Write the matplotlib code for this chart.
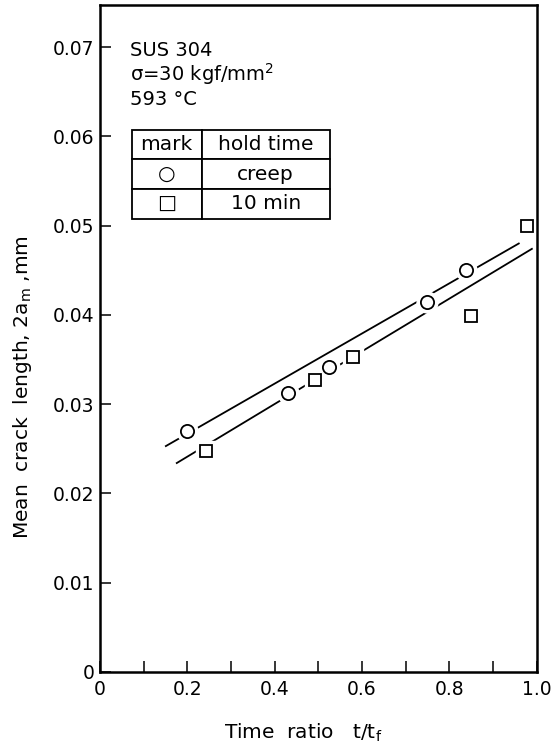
import numpy as np
import matplotlib
matplotlib.use("Agg")
import matplotlib.pyplot as plt

# Data
creep_t = [0.20, 0.43, 0.525, 0.748, 0.838]
creep_a = [0.0270, 0.0312, 0.0342, 0.0415, 0.0450]
hold_t = [0.243, 0.492, 0.579, 0.849, 0.977]
hold_a = [0.0247, 0.0327, 0.0353, 0.0399, 0.0500]

# fitted lines (end points)
creep_fit_t = [0.151, 0.959]
creep_fit_a = [0.0253, 0.0480]
hold_fit_t = [0.176, 0.989]
hold_fit_a = [0.0234, 0.0474]

xticks = [0, 0.2, 0.4, 0.6, 0.8, 1.0]
xticklabels = ["0", "0.2", "0.4", "0.6", "0.8", "1.0"]
yticks = [0, 0.01, 0.02, 0.03, 0.04, 0.05, 0.06, 0.07]
yticklabels = ["0", "0.01", "0.02", "0.03", "0.04", "0.05", "0.06", "0.07"]

plt.rcParams["font.family"] = ["DejaVu Sans"]

fig = plt.figure(figsize=(5.55, 7.49), dpi=100)
ax = fig.add_axes([0.180, 0.103, 0.787, 0.890])

ax.plot(creep_fit_t, creep_fit_a, color="black", lw=1.3, zorder=1)
ax.plot(hold_fit_t, hold_fit_a, color="black", lw=1.3, zorder=1)

# white halos so the lines break around the marks
ax.plot(creep_t, creep_a, ls="none", marker="o", ms=15, mfc="white", mec="white", zorder=2)
ax.plot(hold_t, hold_a, ls="none", marker="s", ms=14, mfc="white", mec="white", zorder=2)
ax.plot(creep_t, creep_a, ls="none", marker="o", ms=9.5, mfc="white", mec="black", mew=1.3, zorder=3)
ax.plot(hold_t, hold_a, ls="none", marker="s", ms=8.5, mfc="white", mec="black", mew=1.3, zorder=3)

ax.set_xlim(0, 1.0)
ax.set_ylim(0, 0.0747)
ax.set_xticks(xticks)
ax.set_xticklabels(xticklabels)
ax.set_xticks(np.arange(0.1, 1.0, 0.2), minor=True)
ax.set_yticks(yticks)
ax.set_yticklabels(yticklabels)
ax.tick_params(axis="both", direction="in", length=8, width=1.1, labelsize=13.5)
ax.tick_params(axis="x", which="minor", direction="in", length=8, width=1.1)
ax.tick_params(axis="x", pad=6)
ax.tick_params(axis="y", pad=4)
for s in ax.spines.values():
    s.set_linewidth(1.8)

ax.set_xlabel("Time  ratio   t/t$_\\mathregular{f}$", fontsize=14.5)
ax.set_ylabel("Mean  crack  length, 2a$_\\mathregular{m}$ ,mm", fontsize=14.5)
ax.xaxis.set_label_coords(0.465, -0.075)
ax.yaxis.set_label_coords(-0.15, 0.427)

ax.text(0.069, 0.924, "SUS 304", transform=ax.transAxes, fontsize=14, va="baseline")
ax.text(0.069, 0.886, "σ=30 kgf/mm$^\\mathregular{2}$", transform=ax.transAxes, fontsize=14, va="baseline")
ax.text(0.069, 0.850, "593 °C", transform=ax.transAxes, fontsize=14, va="baseline")

tbl = ax.table(cellText=[["○", "creep"], ["□", "10 min"]],
               colLabels=["mark", "hold time"],
               cellLoc="center", colWidths=[0.353, 0.647],
               bbox=[0.073, 0.680, 0.453, 0.133])
tbl.auto_set_font_size(False)
tbl.set_fontsize(14.5)
for cell in tbl.get_celld().values():
    cell.set_linewidth(1.3)

fig.savefig("out.png", dpi=100)
